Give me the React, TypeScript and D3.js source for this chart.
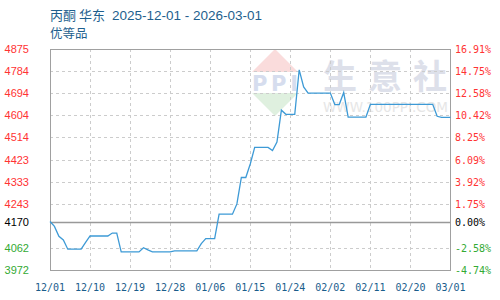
import React from "react";
import * as d3 from "d3";

const titleName = "丙酮 华东";
const titleRange = "2025-12-01 - 2026-03-01";
const subTitle = "优等品";
const baseValue = 4170;
const startDate = new Date(2025, 11, 1);
const endDate = new Date(2026, 2, 1);
const xTickLabels = ["12/01", "12/10", "12/19", "12/28", "01/06", "01/15", "01/24", "02/02", "02/11", "02/20", "03/01"];
const yTickValues = [3972, 4062, 4243, 4333, 4423, 4514, 4604, 4694, 4784, 4875];
const pctTickLabels = ["-4.74%", "-2.58%", "1.75%", "3.92%", "6.09%", "8.25%", "10.42%", "12.58%", "14.75%", "16.91%"];
const prices = [
  4170, 4150, 4110, 4095, 4057, 4057, 4057, 4057, 4085, 4111,
  4111, 4111, 4111, 4111, 4123, 4123, 4046, 4046, 4046, 4046,
  4046, 4063, 4054, 4046, 4046, 4046, 4046, 4046, 4050, 4050,
  4050, 4050, 4050, 4050, 4080, 4100, 4100, 4100, 4200, 4200,
  4200, 4200, 4242, 4350, 4350, 4405, 4473, 4473, 4473, 4473,
  4460, 4495, 4625, 4608, 4608, 4608, 4790, 4720, 4695, 4695,
  4695, 4695, 4695, 4695, 4648, 4648, 4697, 4597, 4597, 4597,
  4597, 4597, 4649, 4649, 4649, 4649, 4649, 4649, 4649, 4649,
  4649, 4649, 4649, 4649, 4649, 4649, 4649, 4600, 4596, 4596,
  4596,
];

export default function App() {
  const W = 500, H = 300;
  const L = 50, R = 450.5, T = 49, B = 270;
  const x = d3.scaleTime().domain([startDate, endDate]).range([L, R]);
  const y = d3.scaleLinear().domain([3972, 4875]).range([B, T]);
  const data = prices.map((v, i) => ({ d: d3.timeDay.offset(startDate, i), v }));
  const line = d3.line<{ d: Date; v: number }>().x(p => x(p.d)).y(p => y(p.v));
  const xTicks = xTickLabels.map((lab, i) => ({ lab, d: d3.timeDay.offset(startDate, i * 9) }));
  const red = "#ff3333", green = "#33aa33";
  return (
    <svg width={W} height={H} style={{ position: "absolute", left: 0, top: 0, background: "#fff" }}>
      {/* watermark */}
      <g>
        <polygon points="252,72 275,49 298,72" fill="#fadcdc" />
        <text x={252} y={91} fontFamily="DejaVu Sans" fontWeight="bold" fontSize={21} fill="#d6ddee" textLength={46} lengthAdjust="spacing">PPI</text>
        <polygon points="252,93 298,93 275,116" fill="#dff0df" />
        <text x={323} y={89} fontFamily="Noto Sans CJK SC" fontWeight="bold" fontSize={34} fill="#dde0ea" letterSpacing={11}>生意社</text>
        <text x={323} y={112} fontFamily="DejaVu Sans" fontSize={13.5} fill="#e6e6e6" textLength={125}>WWW.100PPI.COM</text>
      </g>
      {/* horizontal grid */}
      {yTickValues.filter(v => v !== 3972 && v !== 4875).map(v => (
        <line key={v} x1={L} x2={R} y1={Math.round(y(v)) + 0.5} y2={Math.round(y(v)) + 0.5} stroke="#cccccc" strokeDasharray="3,3" />
      ))}
      {/* vertical grid */}
      {xTicks.slice(1, -1).map(t => (
        <line key={t.lab} x1={Math.round(x(t.d)) + 0.5} x2={Math.round(x(t.d)) + 0.5} y1={T} y2={B} stroke="#cccccc" strokeDasharray="3,3" />
      ))}
      {/* border */}
      <rect x={L + 0.5} y={T + 0.5} width={R - L - 0.5} height={B - T} fill="none" stroke="#a0a0a0" />
      {/* base line */}
      <line x1={L} x2={R} y1={Math.round(y(baseValue)) + 0.5} y2={Math.round(y(baseValue)) + 0.5} stroke="#999999" strokeWidth={1.5} />
      <path d={line(data) || ""} fill="none" stroke="#3d9ad6" strokeWidth={1.3} />
      {/* left labels */}
      {yTickValues.map(v => (
        <text key={v} x={29} y={y(v) + 4} textAnchor="end" fontFamily="Liberation Sans, Arial" fontSize={11} fill={v > baseValue ? red : green}>{v}</text>
      ))}
      <text x={29} y={y(baseValue) + 4} textAnchor="end" fontFamily="Liberation Sans, Arial" fontSize={11} fill="#000">{baseValue}</text>
      {/* right labels */}
      {yTickValues.map((v, i) => (
        <text key={v} x={455} y={y(v) + 4} fontFamily="DejaVu Sans Mono" fontSize={10} fill={v > baseValue ? red : green}>{pctTickLabels[i]}</text>
      ))}
      <text x={455} y={y(baseValue) + 4} fontFamily="DejaVu Sans Mono" fontSize={10} fill="#000">0.00%</text>
      {/* x labels */}
      {xTicks.map(t => (
        <text key={t.lab} x={x(t.d)} y={291} textAnchor="middle" fontFamily="DejaVu Sans Mono" fontSize={10} fill="#1a5d8c">{t.lab}</text>
      ))}
      {/* title */}
      <text x={50} y={20} fontFamily="Noto Sans CJK SC" fontSize={13} fill="#1e5f8e">{titleName}</text>
      <text x={112} y={20} fontFamily="Liberation Sans, Arial" fontSize={13.5} fill="#1e5f8e">{titleRange}</text>
      <text x={50} y={38} fontFamily="Noto Sans CJK SC" fontSize={12.5} fill="#1e5f8e">{subTitle}</text>
    </svg>
  );
}
